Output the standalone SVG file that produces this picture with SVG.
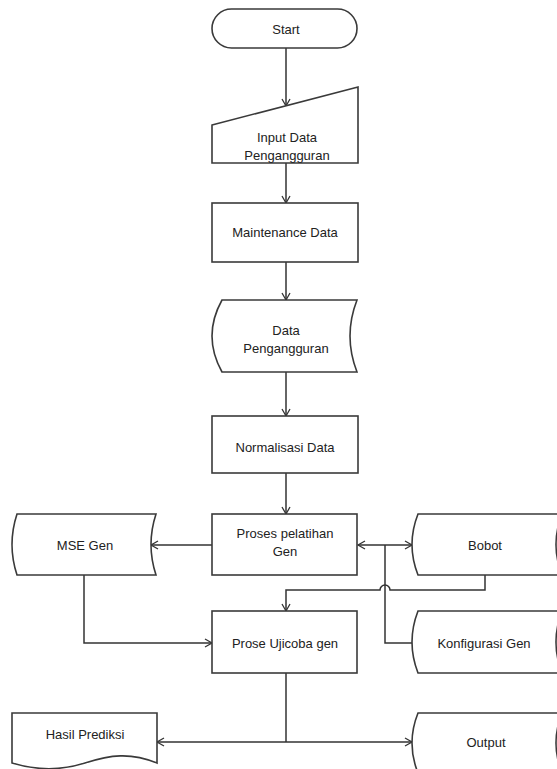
<svg xmlns="http://www.w3.org/2000/svg" width="557" height="769" viewBox="0 0 557 769">
<style>
.shape{fill:#fff;stroke:#3a3a3a;stroke-width:1.6}
.line{fill:none;stroke:#333;stroke-width:1.5}
text{font-family:"Liberation Sans",Arial,sans-serif;font-size:13px;fill:#222;text-anchor:middle;dominant-baseline:central}
</style>
<defs>
<marker id="arr" markerWidth="10" markerHeight="10" refX="8" refY="5" orient="auto" markerUnits="userSpaceOnUse">
<path d="M1,1 L8,5 L1,9" fill="none" stroke="#333" stroke-width="1.3"/>
</marker>
</defs>
<rect width="557" height="769" fill="#fff"/>
<g id="connectors">
<path class="line" d="M286,48 L286,106" marker-end="url(#arr)"/>
<path class="line" d="M286,163 L286,203" marker-end="url(#arr)"/>
<path class="line" d="M286,262 L286,300" marker-end="url(#arr)"/>
<path class="line" d="M286,372 L286,416" marker-end="url(#arr)"/>
<path class="line" d="M286,473 L286,514" marker-end="url(#arr)"/>
<path class="line" d="M212,545 L151,545" marker-end="url(#arr)"/>
<path class="line" d="M385,545 L358,545" marker-end="url(#arr)"/>
<path class="line" d="M385,545 L412,545" marker-end="url(#arr)"/>
<path class="line" d="M385,545 L385,643 L412,643"/>
<path class="line" d="M485,575 L485,590 L390,590 A5,5 0 0 0 380,590 L286,590 L286,611" marker-end="url(#arr)"/>
<path class="line" d="M84,575 L84,643 L212,643" marker-end="url(#arr)"/>
<path class="line" d="M286,673 L286,742"/>
<path class="line" d="M286,742 L157,742" marker-end="url(#arr)"/>
<path class="line" d="M286,742 L412,742" marker-end="url(#arr)"/>
</g>
<g id="start">
<rect class="shape" x="212" y="9" width="145" height="39" rx="19.5"/>
<text x="286" y="29">Start</text>
</g>
<g id="input-data">
<path class="shape" d="M212,125 L358,87 L358,163 L212,163 Z"/>
<text x="287" y="137">Input Data</text>
<text x="287" y="155">Pengangguran</text>
</g>
<g id="maintenance">
<rect class="shape" x="212" y="203" width="146" height="59"/>
<text x="285" y="232">Maintenance Data</text>
</g>
<g id="data-pengangguran">
<path class="shape" d="M222,300 L357,300 Q343,336 357,372 L222,372 Q202,336 222,300 Z"/>
<text x="286" y="330">Data</text>
<text x="286" y="348">Pengangguran</text>
</g>
<g id="normalisasi">
<rect class="shape" x="212" y="416" width="146" height="57"/>
<text x="285" y="447">Normalisasi Data</text>
</g>
<g id="proses-pelatihan">
<rect class="shape" x="212" y="514" width="145" height="61"/>
<text x="285" y="533">Proses pelatihan</text>
<text x="285" y="551">Gen</text>
</g>
<g id="mse-gen">
<path class="shape" d="M17,514 L156,514 Q146,544.5 156,575 L17,575 Q7,544.5 17,514 Z"/>
<text x="85" y="545">MSE Gen</text>
</g>
<g id="bobot">
<path class="shape" d="M418,514 L562,514 Q550,544.5 562,575 L418,575 Q406,544.5 418,514 Z"/>
<text x="485" y="545">Bobot</text>
</g>
<g id="prose-ujicoba">
<rect class="shape" x="212" y="611" width="145" height="62"/>
<text x="285" y="643">Prose Ujicoba gen</text>
</g>
<g id="konfigurasi-gen">
<path class="shape" d="M418,611 L562,611 Q550,642 562,673 L418,673 Q406,642 418,611 Z"/>
<text x="484" y="643">Konfigurasi Gen</text>
</g>
<g id="hasil-prediksi">
<path class="shape" d="M12,713 L157,713 L157,763 C130,752 110,755 85,763 C60,771 35,770 12,763 Z"/>
<text x="85" y="734">Hasil Prediksi</text>
</g>
<g id="output">
<path class="shape" d="M418,713 L562,713 Q550,743 562,773 L418,773 Q406,743 418,713 Z"/>
<text x="486" y="742">Output</text>
</g>
</svg>
